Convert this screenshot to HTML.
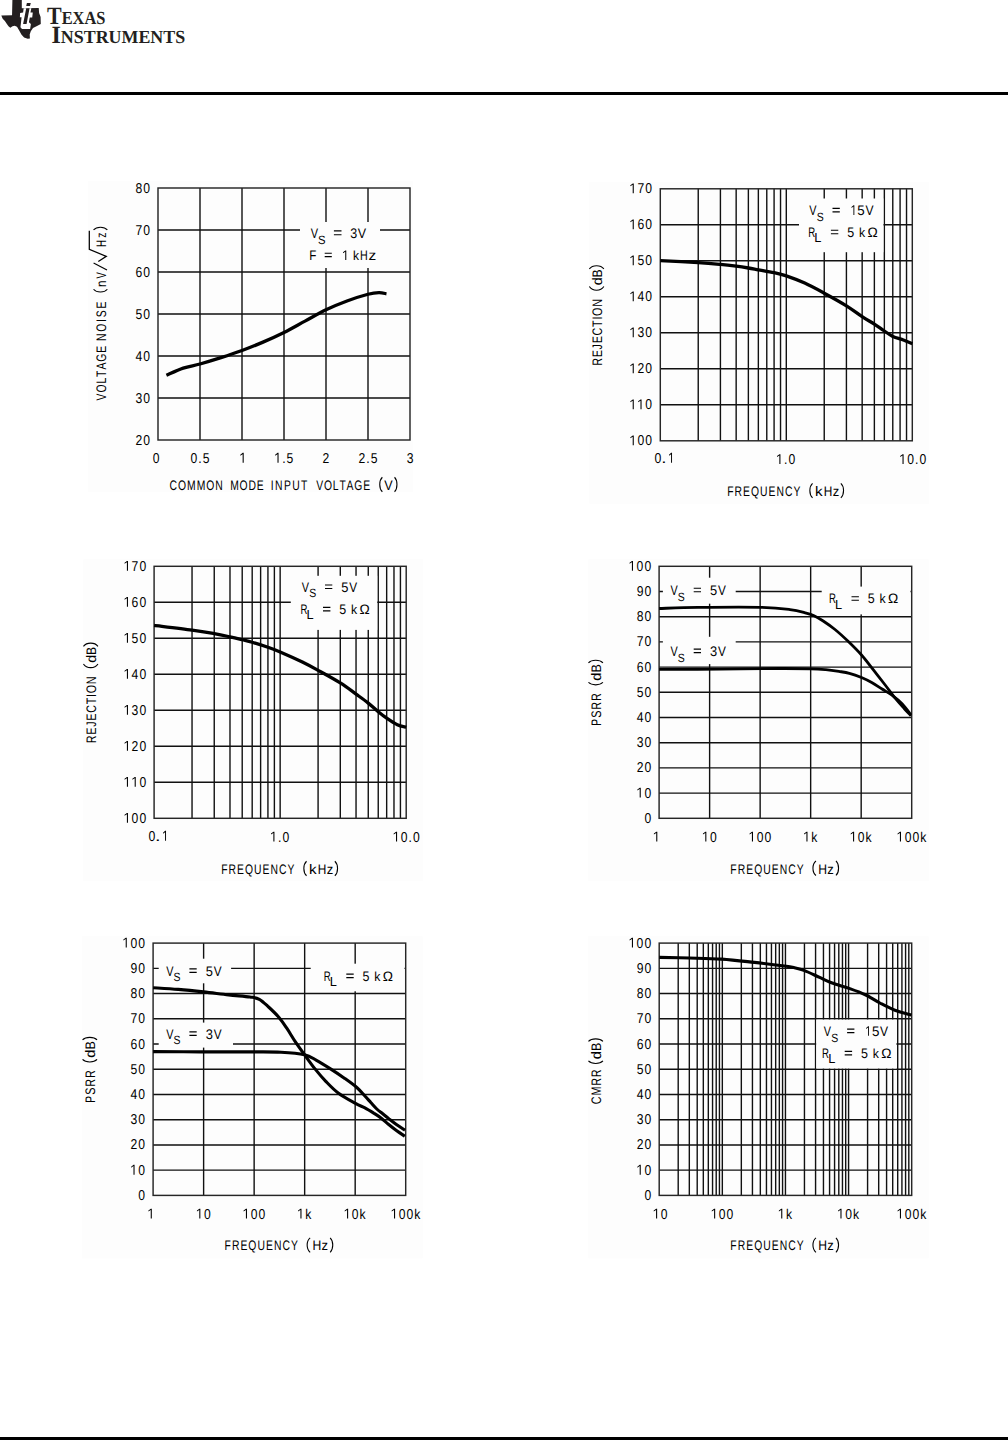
<!DOCTYPE html>
<html><head><meta charset="utf-8"><title>Typical Characteristics</title>
<style>
html,body{margin:0;padding:0;background:#fff;}
body{width:1008px;height:1440px;overflow:hidden;position:relative;font-family:"Liberation Sans",sans-serif;}
svg{position:absolute;left:0;top:0;display:block;}
</style></head><body>
<svg width="1008" height="1440" viewBox="0 0 1008 1440" font-family="Liberation Sans, sans-serif" fill="#000" text-rendering="geometricPrecision" style="font-kerning:none">
<rect x="88" y="181" width="325" height="311" fill="#fdfdfd"/>
<rect x="589.3" y="181.8" width="340" height="322" fill="#fdfdfd"/>
<rect x="83.1" y="559.3" width="340.1" height="322" fill="#fdfdfd"/>
<rect x="588.1" y="559.3" width="340.6" height="322" fill="#fdfdfd"/>
<rect x="82.1" y="936.1" width="340.6" height="322.3" fill="#fdfdfd"/>
<rect x="588.2" y="936.1" width="340.5" height="322.3" fill="#fdfdfd"/>
<rect x="0" y="92" width="1008" height="3" fill="#000"/>
<rect x="0" y="1437" width="1008" height="3" fill="#000"/>
<path fill="#231f20" d="M12.4 0H21.8V8.2L38.75 8.0L39.1 12.9L40.6 17L40.8 24.1L37 25.9L33 28.1L30.8 31.25L29.7 34.4L29.9 38.4L27.7 38.8L24.1 37.5L21.4 34.4L19.2 30.4L17 26.8L14.7 25.7L12.5 26.3L10.3 27.7L8.5 26.3L6.7 23.7L4.9 21L2.7 18.75L1.3 15.4L12.05 15.2Z"/>
<path fill="#fff" d="M23.67 8.22L31.33 8.22L30.44 12.44L32.78 12.44L32.22 17.56L29.78 17.56L28.89 22.22L30.89 24L30.11 28.89L22 28.89L20.44 27.33L20.89 23.56L21.56 17.33L19.89 17.33L20.11 12.89L23.11 12.44Z"/>
<path fill="#231f20" d="M26.22 8.22L29.56 8.22L26.56 24L23.11 24Z M26.89 2.89L30.78 2.89L30 6.11L26.22 6.11Z"/>
<g font-family="Liberation Serif, serif" font-weight="bold" fill="#231f20">
<text x="47" y="23.6" font-size="24.8" textLength="58.4" lengthAdjust="spacingAndGlyphs">T<tspan font-size="18.5">EXAS</tspan></text>
<text x="51.5" y="42.8" font-size="24.8" textLength="133.7" lengthAdjust="spacingAndGlyphs">I<tspan font-size="18.5">NSTRUMENTS</tspan></text>
</g>
<path d="M200 188V440M242 188V440M284 188V440M326 188V440M368 188V440M158 398H410M158 356H410M158 314H410M158 272H410M158 230H410" stroke="#111" stroke-width="1.4" fill="none"/>
<rect x="300" y="222" width="80" height="46" fill="#fdfdfd"/>
<rect x="158" y="188" width="252" height="252" stroke="#262626" stroke-width="1.45" fill="none"/>
<path d="M166.4 375.32C169.2 374.13 177.6 370.07 183.2 368.18C188.8 366.29 193.7 365.73 200 363.98C206.3 362.23 214 359.92 221 357.68C228 355.44 235 353.13 242 350.54C249 347.95 256 345.15 263 342.14C270 339.13 277 335.98 284 332.48C291 328.98 298 324.92 305 321.14C312 317.36 319 313.16 326 309.8C333 306.44 340 303.57 347 300.98C354 298.39 362.68 295.66 368 294.26C373.32 292.86 375.84 292.65 378.92 292.58C382 292.51 385.22 293.63 386.48 293.84" stroke="#000" stroke-width="3.3" fill="none" stroke-linecap="butt" stroke-linejoin="round"/>
<text transform="translate(135.43 192.5) scale(0.85 1)" font-size="14.3" style="letter-spacing:1.2px">80</text>
<text transform="translate(135.43 234.5) scale(0.85 1)" font-size="14.3" style="letter-spacing:1.2px">70</text>
<text transform="translate(135.43 276.5) scale(0.85 1)" font-size="14.3" style="letter-spacing:1.2px">60</text>
<text transform="translate(135.43 318.5) scale(0.85 1)" font-size="14.3" style="letter-spacing:1.2px">50</text>
<text transform="translate(135.43 360.5) scale(0.85 1)" font-size="14.3" style="letter-spacing:1.2px">40</text>
<text transform="translate(135.43 402.5) scale(0.85 1)" font-size="14.3" style="letter-spacing:1.2px">30</text>
<text transform="translate(135.43 444.5) scale(0.85 1)" font-size="14.3" style="letter-spacing:1.2px">20</text>
<text transform="translate(190.55 462.7) scale(0.85 1)" font-size="14.3" style="letter-spacing:1.2px">0.5</text>
<g transform="translate(239.58 462.7) scale(0.85 1)" font-size="14.3"><path transform="matrix(0.00698 0 0 -0.00698 0 0)" d="M515 0L515 1225L120 1000L120 1150L530 1409L696 1409L696 0Z"/></g>
<g transform="translate(274.43 462.7) scale(0.85 1)" font-size="14.3"><path transform="matrix(0.00698 0 0 -0.00698 0 0)" d="M515 0L515 1225L120 1000L120 1150L530 1409L696 1409L696 0Z"/><text x="9.15" style="letter-spacing:1.2px">.5</text></g>
<text transform="translate(322.62 462.7) scale(0.85 1)" font-size="14.3" style="letter-spacing:1.2px">2</text>
<text transform="translate(358.48 462.7) scale(0.85 1)" font-size="14.3" style="letter-spacing:1.2px">2.5</text>
<text transform="translate(406.66 462.7) scale(0.85 1)" font-size="14.3" style="letter-spacing:1.2px">3</text>
<text transform="translate(152.72 462.7) scale(0.85 1)" font-size="14.3" style="letter-spacing:1.2px">0</text>
<text transform="translate(169.47 489.8) scale(0.75 1)" font-size="13.8" style="letter-spacing:1.35px">COMMON</text>
<text transform="translate(230.15 489.8) scale(0.75 1)" font-size="13.8" style="letter-spacing:1.09px">MODE</text>
<text transform="translate(270.84 489.8) scale(0.75 1)" font-size="13.8" style="letter-spacing:1.85px">INPUT</text>
<text transform="translate(316.25 489.8) scale(0.75 1)" font-size="13.8" style="letter-spacing:1.11px">VOLTAGE</text>
<path d="M382.35 477.25C378.88 480.44 378.88 488.56 382.35 491.75" stroke="#000" stroke-width="1.1" fill="none"/>
<text transform="translate(384.24 489.8) scale(0.91 1)" font-size="13.8">V</text>
<path d="M394.55 477.25C397.75 480.44 397.75 488.56 394.55 491.75" stroke="#000" stroke-width="1.1" fill="none"/>
<g transform="translate(106.2 400.4) rotate(-90)">
<text transform="translate(-0.05 0) scale(0.75 1)" font-size="13.8" style="letter-spacing:1.27px">VOLTAGE</text>
<text transform="translate(59.35 0) scale(0.75 1)" font-size="13.8" style="letter-spacing:2.4px">NOISE</text>
<path d="M111.15 -12.65C107.55 -9.61 107.55 -1.89 111.15 1.15" stroke="#000" stroke-width="1.1" fill="none"/>
<path d="M170.45 -12.65C174.05 -9.61 174.05 -1.89 170.45 1.15" stroke="#000" stroke-width="1.1" fill="none"/>
<text transform="translate(113.33 0) scale(0.84 1)" font-size="13.8">n</text>
<text transform="translate(121.96 0) scale(0.68 1)" font-size="13.8">V</text>
<text transform="translate(153.41 0) scale(0.7 1)" font-size="13.8">H</text>
<text transform="translate(162.67 0) scale(0.76 1)" font-size="13.8">z</text>
<path d="M138.9 -7.9L144 0.1L151.1 -16.9H169.7" stroke="#000" stroke-width="1.25" fill="none"/>
<path d="M130.3 0.8L137.3 -12.6" stroke="#000" stroke-width="1.15" fill="none"/>
</g>
<text transform="translate(310.75 238) scale(0.79 1)" font-size="13.9">V</text>
<text transform="translate(317.89 243.6) scale(0.94 1)" font-size="12">S</text>
<path d="M333.9 230.8H341.5M333.9 234.7H341.5" stroke="#000" stroke-width="1.15"/>
<text transform="translate(350.33 238) scale(0.9 1)" font-size="13.9">3</text>
<text transform="translate(357.75 238) scale(0.9 1)" font-size="13.9">V</text>
<text transform="translate(309.14 260) scale(0.84 1)" font-size="13.9">F</text>
<path d="M324.7 253.2H331.8M324.7 256.6H331.8" stroke="#000" stroke-width="1.15"/>
<g transform="translate(342.31 260) scale(0.84 1)" font-size="13.9"><path transform="matrix(0.00679 0 0 -0.00679 0 0)" d="M515 0L515 1225L120 1000L120 1150L530 1409L696 1409L696 0Z"/></g>
<text transform="translate(352.89 260) scale(0.91 1)" font-size="13.19">k</text>
<text transform="translate(359.92 260) scale(0.77 1)" font-size="13.9">H</text>
<text transform="translate(368.38 260) scale(1.11 1)" font-size="13.9">z</text>
<path d="M698.23 188.8V440.8M720.42 188.8V440.8M736.16 188.8V440.8M748.37 188.8V440.8M758.35 188.8V440.8M766.78 188.8V440.8M774.09 188.8V440.8M780.53 188.8V440.8M786.3 188.8V440.8M824.23 188.8V440.8M846.42 188.8V440.8M862.16 188.8V440.8M874.37 188.8V440.8M884.35 188.8V440.8M892.78 188.8V440.8M900.09 188.8V440.8M906.53 188.8V440.8M660.3 404.8H912.3M660.3 368.8H912.3M660.3 332.8H912.3M660.3 296.8H912.3M660.3 260.8H912.3M660.3 224.8H912.3" stroke="#111" stroke-width="1.4" fill="none"/>
<rect x="799" y="198.5" width="84.4" height="53.7" fill="#fdfdfd"/>
<rect x="660.3" y="188.8" width="252" height="252" stroke="#262626" stroke-width="1.45" fill="none"/>
<path d="M660.3 260.62C666.62 260.95 688.21 261.97 698.23 262.6C708.25 263.23 714.1 263.8 720.42 264.4C726.74 265 731.5 265.6 736.16 266.2C740.82 266.8 744.67 267.4 748.37 268C752.07 268.6 754.06 269.02 758.35 269.8C762.63 270.58 769.43 271.66 774.09 272.68C778.75 273.7 781.2 274.18 786.3 275.92C791.4 277.66 798.39 280.24 804.71 283.12C811.03 286 817.28 289.42 824.23 293.2C831.18 296.98 840.1 301.9 846.42 305.8C852.74 309.7 857.5 313.54 862.16 316.6C866.82 319.66 870.67 321.76 874.37 324.16C878.07 326.56 881.28 328.96 884.35 331C887.42 333.04 889.61 334.9 892.78 336.4C895.96 337.9 900.15 338.8 903.41 340C906.66 341.2 910.82 343 912.3 343.6" stroke="#000" stroke-width="3.3" fill="none" stroke-linecap="butt" stroke-linejoin="round"/>
<g transform="translate(629.65 193.3) scale(0.85 1)" font-size="14.3"><path transform="matrix(0.00698 0 0 -0.00698 0 0)" d="M515 0L515 1225L120 1000L120 1150L530 1409L696 1409L696 0Z"/><text x="9.15" style="letter-spacing:1.2px">70</text></g>
<g transform="translate(629.65 229.3) scale(0.85 1)" font-size="14.3"><path transform="matrix(0.00698 0 0 -0.00698 0 0)" d="M515 0L515 1225L120 1000L120 1150L530 1409L696 1409L696 0Z"/><text x="9.15" style="letter-spacing:1.2px">60</text></g>
<g transform="translate(629.65 265.3) scale(0.85 1)" font-size="14.3"><path transform="matrix(0.00698 0 0 -0.00698 0 0)" d="M515 0L515 1225L120 1000L120 1150L530 1409L696 1409L696 0Z"/><text x="9.15" style="letter-spacing:1.2px">50</text></g>
<g transform="translate(629.65 301.3) scale(0.85 1)" font-size="14.3"><path transform="matrix(0.00698 0 0 -0.00698 0 0)" d="M515 0L515 1225L120 1000L120 1150L530 1409L696 1409L696 0Z"/><text x="9.15" style="letter-spacing:1.2px">40</text></g>
<g transform="translate(629.65 337.3) scale(0.85 1)" font-size="14.3"><path transform="matrix(0.00698 0 0 -0.00698 0 0)" d="M515 0L515 1225L120 1000L120 1150L530 1409L696 1409L696 0Z"/><text x="9.15" style="letter-spacing:1.2px">30</text></g>
<g transform="translate(629.65 373.3) scale(0.85 1)" font-size="14.3"><path transform="matrix(0.00698 0 0 -0.00698 0 0)" d="M515 0L515 1225L120 1000L120 1150L530 1409L696 1409L696 0Z"/><text x="9.15" style="letter-spacing:1.2px">20</text></g>
<g transform="translate(629.65 409.3) scale(0.85 1)" font-size="14.3"><path transform="matrix(0.00698 0 0 -0.00698 0 0)" d="M515 0L515 1225L120 1000L120 1150L530 1409L696 1409L696 0Z"/><path transform="matrix(0.00698 0 0 -0.00698 9.15 0)" d="M515 0L515 1225L120 1000L120 1150L530 1409L696 1409L696 0Z"/><text x="18.31" style="letter-spacing:1.2px">0</text></g>
<g transform="translate(629.65 445.3) scale(0.85 1)" font-size="14.3"><path transform="matrix(0.00698 0 0 -0.00698 0 0)" d="M515 0L515 1225L120 1000L120 1150L530 1409L696 1409L696 0Z"/><text x="9.15" style="letter-spacing:1.2px">00</text></g>
<text transform="translate(654.62 462.7) scale(0.86 1)" font-size="14.3">0</text>
<text transform="translate(661.27 462.7) scale(1.32 1)" font-size="14.3">.</text>
<g transform="translate(668.38 462.7) scale(0.75 1)" font-size="14.3"><path transform="matrix(0.00698 0 0 -0.00698 0 0)" d="M515 0L515 1225L120 1000L120 1150L530 1409L696 1409L696 0Z"/></g>
<g transform="translate(776.31 464) scale(0.85 1)" font-size="14.3"><path transform="matrix(0.00698 0 0 -0.00698 0 0)" d="M515 0L515 1225L120 1000L120 1150L530 1409L696 1409L696 0Z"/><text x="9.15" style="letter-spacing:1.2px">.0</text></g>
<g transform="translate(899.46 464) scale(0.85 1)" font-size="14.3"><path transform="matrix(0.00698 0 0 -0.00698 0 0)" d="M515 0L515 1225L120 1000L120 1150L530 1409L696 1409L696 0Z"/><text x="9.15" style="letter-spacing:1.2px">0.0</text></g>
<text transform="translate(727.25 495.9) scale(0.75 1)" font-size="13.8" style="letter-spacing:1.35px">FREQUENCY</text>
<path d="M812.55 483.35C808.95 486.54 808.95 494.66 812.55 497.85" stroke="#000" stroke-width="1.1" fill="none"/>
<text transform="translate(815.08 495.9) scale(1.1 1)" font-size="13.8">k</text>
<text transform="translate(823.83 495.9) scale(0.86 1)" font-size="13.8">H</text>
<text transform="translate(832.78 495.9) scale(0.94 1)" font-size="13.8">z</text>
<path d="M840.85 483.35C844.45 486.54 844.45 494.66 840.85 497.85" stroke="#000" stroke-width="1.1" fill="none"/>
<g transform="translate(601.9 0) rotate(-90)">
<text transform="translate(-365.78 0) scale(0.78 1)" font-size="13.8" style="letter-spacing:0.92px">REJECTION</text>
<path d="M-286.55 -12.55C-291.48 -9.36 -291.48 -1.24 -286.55 1.95" stroke="#000" stroke-width="1.1" fill="none"/>
<text transform="translate(-285.31 0) scale(1.05 1)" font-size="13.8">d</text>
<text transform="translate(-277.5 0) scale(0.88 1)" font-size="13.8">B</text>
<path d="M-268.95 -12.55C-264.68 -9.36 -264.68 -1.24 -268.95 1.95" stroke="#000" stroke-width="1.1" fill="none"/>
</g>
<text transform="translate(809.25 214.9) scale(0.78 1)" font-size="13.9">V</text>
<text transform="translate(816.63 220.7) scale(0.87 1)" font-size="12">S</text>
<path d="M832.5 208.3H839.8M832.5 211.8H839.8" stroke="#000" stroke-width="1.15"/>
<g transform="translate(850.92 214.9) scale(0.72 1)" font-size="13.9"><path transform="matrix(0.00679 0 0 -0.00679 0 0)" d="M515 0L515 1225L120 1000L120 1150L530 1409L696 1409L696 0Z"/></g>
<text transform="translate(857.37 214.9) scale(0.96 1)" font-size="13.9">5</text>
<text transform="translate(865.45 214.9) scale(0.87 1)" font-size="13.9">V</text>
<text transform="translate(808.31 236.8) scale(0.69 1)" font-size="13.9">R</text>
<text transform="translate(814.36 242.3) scale(0.98 1)" font-size="13">L</text>
<path d="M830.9 230.2H838.3M830.9 233.7H838.3" stroke="#000" stroke-width="1.15"/>
<text transform="translate(847.2 236.8) scale(0.9 1)" font-size="13.9">5</text>
<text transform="translate(858.88 236.8) scale(0.93 1)" font-size="13.19">k</text>
<text transform="translate(867.42 236.8) scale(1 1)" font-size="13.7">Ω</text>
<path d="M192.04 566.3V818.3M214.24 566.3V818.3M229.99 566.3V818.3M242.21 566.3V818.3M252.19 566.3V818.3M260.62 566.3V818.3M267.93 566.3V818.3M274.38 566.3V818.3M280.15 566.3V818.3M318.09 566.3V818.3M340.29 566.3V818.3M356.04 566.3V818.3M368.26 566.3V818.3M378.24 566.3V818.3M386.67 566.3V818.3M393.98 566.3V818.3M400.43 566.3V818.3M154.1 782.3H406.2M154.1 746.3H406.2M154.1 710.3H406.2M154.1 674.3H406.2M154.1 638.3H406.2M154.1 602.3H406.2" stroke="#111" stroke-width="1.4" fill="none"/>
<rect x="290.8" y="575.8" width="86.4" height="54.1" fill="#fdfdfd"/>
<rect x="154.1" y="566.3" width="252.1" height="252" stroke="#262626" stroke-width="1.45" fill="none"/>
<path d="M154.1 625.34C160.42 626.12 182.02 628.64 192.04 630.02C202.07 631.4 207.92 632.48 214.24 633.62C220.57 634.76 225.33 635.84 229.99 636.86C234.65 637.88 238.51 638.84 242.21 639.74C245.9 640.64 247.9 641 252.19 642.26C256.47 643.52 263.27 645.68 267.93 647.3C272.6 648.92 274.41 649.52 280.15 651.98C285.89 654.44 296.02 659 302.35 662.06C308.67 665.12 311.77 666.86 318.09 670.34C324.42 673.82 333.97 678.98 340.29 682.94C346.62 686.9 351.38 690.74 356.04 694.1C360.7 697.46 364.56 700.16 368.26 703.1C371.95 706.04 375.17 709.22 378.24 711.74C381.31 714.26 383.5 716.06 386.67 718.22C389.85 720.38 394.05 723.2 397.3 724.7C400.56 726.2 404.72 726.8 406.2 727.22" stroke="#000" stroke-width="3.3" fill="none" stroke-linecap="butt" stroke-linejoin="round"/>
<g transform="translate(123.85 570.8) scale(0.85 1)" font-size="14.3"><path transform="matrix(0.00698 0 0 -0.00698 0 0)" d="M515 0L515 1225L120 1000L120 1150L530 1409L696 1409L696 0Z"/><text x="9.15" style="letter-spacing:1.2px">70</text></g>
<g transform="translate(123.85 606.8) scale(0.85 1)" font-size="14.3"><path transform="matrix(0.00698 0 0 -0.00698 0 0)" d="M515 0L515 1225L120 1000L120 1150L530 1409L696 1409L696 0Z"/><text x="9.15" style="letter-spacing:1.2px">60</text></g>
<g transform="translate(123.85 642.8) scale(0.85 1)" font-size="14.3"><path transform="matrix(0.00698 0 0 -0.00698 0 0)" d="M515 0L515 1225L120 1000L120 1150L530 1409L696 1409L696 0Z"/><text x="9.15" style="letter-spacing:1.2px">50</text></g>
<g transform="translate(123.85 678.8) scale(0.85 1)" font-size="14.3"><path transform="matrix(0.00698 0 0 -0.00698 0 0)" d="M515 0L515 1225L120 1000L120 1150L530 1409L696 1409L696 0Z"/><text x="9.15" style="letter-spacing:1.2px">40</text></g>
<g transform="translate(123.85 714.8) scale(0.85 1)" font-size="14.3"><path transform="matrix(0.00698 0 0 -0.00698 0 0)" d="M515 0L515 1225L120 1000L120 1150L530 1409L696 1409L696 0Z"/><text x="9.15" style="letter-spacing:1.2px">30</text></g>
<g transform="translate(123.85 750.8) scale(0.85 1)" font-size="14.3"><path transform="matrix(0.00698 0 0 -0.00698 0 0)" d="M515 0L515 1225L120 1000L120 1150L530 1409L696 1409L696 0Z"/><text x="9.15" style="letter-spacing:1.2px">20</text></g>
<g transform="translate(123.85 786.8) scale(0.85 1)" font-size="14.3"><path transform="matrix(0.00698 0 0 -0.00698 0 0)" d="M515 0L515 1225L120 1000L120 1150L530 1409L696 1409L696 0Z"/><path transform="matrix(0.00698 0 0 -0.00698 9.15 0)" d="M515 0L515 1225L120 1000L120 1150L530 1409L696 1409L696 0Z"/><text x="18.31" style="letter-spacing:1.2px">0</text></g>
<g transform="translate(123.85 822.8) scale(0.85 1)" font-size="14.3"><path transform="matrix(0.00698 0 0 -0.00698 0 0)" d="M515 0L515 1225L120 1000L120 1150L530 1409L696 1409L696 0Z"/><text x="9.15" style="letter-spacing:1.2px">00</text></g>
<text transform="translate(148.62 840.7) scale(0.86 1)" font-size="14.3">0</text>
<text transform="translate(155.08 840.7) scale(1.4 1)" font-size="14.3">.</text>
<g transform="translate(162.38 840.7) scale(0.75 1)" font-size="14.3"><path transform="matrix(0.00698 0 0 -0.00698 0 0)" d="M515 0L515 1225L120 1000L120 1150L530 1409L696 1409L696 0Z"/></g>
<g transform="translate(270.31 841.6) scale(0.85 1)" font-size="14.3"><path transform="matrix(0.00698 0 0 -0.00698 0 0)" d="M515 0L515 1225L120 1000L120 1150L530 1409L696 1409L696 0Z"/><text x="9.15" style="letter-spacing:1.2px">.0</text></g>
<g transform="translate(392.96 841.6) scale(0.85 1)" font-size="14.3"><path transform="matrix(0.00698 0 0 -0.00698 0 0)" d="M515 0L515 1225L120 1000L120 1150L530 1409L696 1409L696 0Z"/><text x="9.15" style="letter-spacing:1.2px">0.0</text></g>
<text transform="translate(221.25 873.8) scale(0.75 1)" font-size="13.8" style="letter-spacing:1.35px">FREQUENCY</text>
<path d="M306.55 861.25C302.95 864.44 302.95 872.56 306.55 875.75" stroke="#000" stroke-width="1.1" fill="none"/>
<text transform="translate(309.08 873.8) scale(1.1 1)" font-size="13.8">k</text>
<text transform="translate(317.83 873.8) scale(0.86 1)" font-size="13.8">H</text>
<text transform="translate(326.78 873.8) scale(0.94 1)" font-size="13.8">z</text>
<path d="M334.85 861.25C338.45 864.44 338.45 872.56 334.85 875.75" stroke="#000" stroke-width="1.1" fill="none"/>
<g transform="translate(96 0) rotate(-90)">
<text transform="translate(-743.18 0) scale(0.78 1)" font-size="13.8" style="letter-spacing:0.92px">REJECTION</text>
<path d="M-663.95 -12.55C-668.88 -9.36 -668.88 -1.24 -663.95 1.95" stroke="#000" stroke-width="1.1" fill="none"/>
<text transform="translate(-662.71 0) scale(1.05 1)" font-size="13.8">d</text>
<text transform="translate(-654.9 0) scale(0.88 1)" font-size="13.8">B</text>
<path d="M-646.35 -12.55C-642.08 -9.36 -642.08 -1.24 -646.35 1.95" stroke="#000" stroke-width="1.1" fill="none"/>
</g>
<text transform="translate(301.75 591.6) scale(0.78 1)" font-size="13.9">V</text>
<text transform="translate(309.13 597.4) scale(0.87 1)" font-size="12">S</text>
<path d="M325 585H332.3M325 588.5H332.3" stroke="#000" stroke-width="1.15"/>
<text transform="translate(341.28 591.6) scale(0.93 1)" font-size="13.9">5</text>
<text transform="translate(349.35 591.6) scale(0.85 1)" font-size="13.9">V</text>
<text transform="translate(300.41 613.9) scale(0.69 1)" font-size="13.9">R</text>
<text transform="translate(306.46 619.4) scale(0.98 1)" font-size="13">L</text>
<path d="M323 607.3H330.4M323 610.8H330.4" stroke="#000" stroke-width="1.15"/>
<text transform="translate(339.3 613.9) scale(0.9 1)" font-size="13.9">5</text>
<text transform="translate(350.98 613.9) scale(0.93 1)" font-size="13.19">k</text>
<text transform="translate(359.52 613.9) scale(1 1)" font-size="13.7">Ω</text>
<path d="M709.62 566.3V818.3M760.14 566.3V818.3M810.66 566.3V818.3M861.18 566.3V818.3M659.1 793.1H911.7M659.1 767.9H911.7M659.1 742.7H911.7M659.1 717.5H911.7M659.1 692.3H911.7M659.1 667.1H911.7M659.1 641.9H911.7M659.1 616.7H911.7M659.1 591.5H911.7" stroke="#111" stroke-width="1.4" fill="none"/>
<rect x="662.9" y="577.7" width="72.8" height="26" fill="#fdfdfd"/>
<rect x="662.9" y="636.8" width="72.8" height="27.3" fill="#fdfdfd"/>
<rect x="821.7" y="586.6" width="88.8" height="27.8" fill="#fdfdfd"/>
<rect x="659.1" y="566.3" width="252.6" height="252" stroke="#262626" stroke-width="1.45" fill="none"/>
<path d="M659.1 608.5C665.58 608.32 681.18 607.6 698 607.4C714.82 607.2 744.67 606.93 760 607.3C775.33 607.67 782.3 608.63 790 609.6C797.7 610.57 802.2 612.08 806.2 613.1C810.2 614.12 811.17 614.38 814 615.7C816.83 617.02 819.7 618.7 823.2 621C826.7 623.3 830.85 626.12 835 629.5C839.15 632.88 843.68 637.05 848.1 641.3C852.52 645.55 857.35 650.32 861.5 655C865.65 659.68 869.12 664.48 873 669.4C876.88 674.32 881.1 679.7 884.8 684.5C888.5 689.3 891.93 694.17 895.2 698.2C898.47 702.23 901.77 705.77 904.4 708.7C907.03 711.63 909.9 714.62 911 715.8" stroke="#000" stroke-width="2.8" fill="none" stroke-linecap="butt" stroke-linejoin="round"/>
<path d="M659.1 669.4C669.25 669.35 699.85 669.25 720 669.1C740.15 668.95 764.87 668.55 780 668.5C795.13 668.45 803.17 668.6 810.8 668.8C818.43 669 821.12 669.27 825.8 669.7C830.48 670.13 834.97 670.8 838.9 671.4C842.83 672 845.63 672.28 849.4 673.3C853.17 674.32 857.78 675.97 861.5 677.5C865.22 679.03 868.27 680.58 871.7 682.5C875.13 684.42 878.62 686.82 882.1 689C885.58 691.18 889.32 693.18 892.6 695.6C895.88 698.02 898.73 700.3 901.8 703.5C904.87 706.7 909.47 712.92 911 714.8" stroke="#000" stroke-width="2.8" fill="none" stroke-linecap="butt" stroke-linejoin="round"/>
<g transform="translate(628.85 570.8) scale(0.85 1)" font-size="14.3"><path transform="matrix(0.00698 0 0 -0.00698 0 0)" d="M515 0L515 1225L120 1000L120 1150L530 1409L696 1409L696 0Z"/><text x="9.15" style="letter-spacing:1.2px">00</text></g>
<text transform="translate(636.63 596) scale(0.85 1)" font-size="14.3" style="letter-spacing:1.2px">90</text>
<text transform="translate(636.63 621.2) scale(0.85 1)" font-size="14.3" style="letter-spacing:1.2px">80</text>
<text transform="translate(636.63 646.4) scale(0.85 1)" font-size="14.3" style="letter-spacing:1.2px">70</text>
<text transform="translate(636.63 671.6) scale(0.85 1)" font-size="14.3" style="letter-spacing:1.2px">60</text>
<text transform="translate(636.63 696.8) scale(0.85 1)" font-size="14.3" style="letter-spacing:1.2px">50</text>
<text transform="translate(636.63 722) scale(0.85 1)" font-size="14.3" style="letter-spacing:1.2px">40</text>
<text transform="translate(636.63 747.2) scale(0.85 1)" font-size="14.3" style="letter-spacing:1.2px">30</text>
<text transform="translate(636.63 772.4) scale(0.85 1)" font-size="14.3" style="letter-spacing:1.2px">20</text>
<g transform="translate(636.63 797.6) scale(0.85 1)" font-size="14.3"><path transform="matrix(0.00698 0 0 -0.00698 0 0)" d="M515 0L515 1225L120 1000L120 1150L530 1409L696 1409L696 0Z"/><text x="9.15" style="letter-spacing:1.2px">0</text></g>
<text transform="translate(644.41 822.8) scale(0.85 1)" font-size="14.3" style="letter-spacing:1.2px">0</text>
<g transform="translate(653.18 841.6) scale(0.85 1)" font-size="14.3"><path transform="matrix(0.00698 0 0 -0.00698 0 0)" d="M515 0L515 1225L120 1000L120 1150L530 1409L696 1409L696 0Z"/></g>
<g transform="translate(702.23 841.6) scale(0.85 1)" font-size="14.3"><path transform="matrix(0.00698 0 0 -0.00698 0 0)" d="M515 0L515 1225L120 1000L120 1150L530 1409L696 1409L696 0Z"/><text x="9.15" style="letter-spacing:1.2px">0</text></g>
<g transform="translate(748.86 841.6) scale(0.85 1)" font-size="14.3"><path transform="matrix(0.00698 0 0 -0.00698 0 0)" d="M515 0L515 1225L120 1000L120 1150L530 1409L696 1409L696 0Z"/><text x="9.15" style="letter-spacing:1.2px">00</text></g>
<g transform="translate(803.37 841.6) scale(0.85 1)" font-size="14.3"><path transform="matrix(0.00698 0 0 -0.00698 0 0)" d="M515 0L515 1225L120 1000L120 1150L530 1409L696 1409L696 0Z"/><text x="9.15" style="letter-spacing:1.2px">k</text></g>
<g transform="translate(850 841.6) scale(0.85 1)" font-size="14.3"><path transform="matrix(0.00698 0 0 -0.00698 0 0)" d="M515 0L515 1225L120 1000L120 1150L530 1409L696 1409L696 0Z"/><text x="9.15" style="letter-spacing:1.2px">0k</text></g>
<g transform="translate(896.86 841.6) scale(0.85 1)" font-size="14.3"><path transform="matrix(0.00698 0 0 -0.00698 0 0)" d="M515 0L515 1225L120 1000L120 1150L530 1409L696 1409L696 0Z"/><text x="9.15" style="letter-spacing:1.2px">00k</text></g>
<text transform="translate(730.35 873.5) scale(0.75 1)" font-size="13.8" style="letter-spacing:1.38px">FREQUENCY</text>
<path d="M815.95 860.95C811.95 864.14 811.95 872.26 815.95 875.45" stroke="#000" stroke-width="1.1" fill="none"/>
<text transform="translate(818.2 873.5) scale(0.88 1)" font-size="13.8">H</text>
<text transform="translate(827.28 873.5) scale(0.94 1)" font-size="13.8">z</text>
<path d="M835.95 860.95C839.42 864.14 839.42 872.26 835.95 875.45" stroke="#000" stroke-width="1.1" fill="none"/>
<g transform="translate(601 0) rotate(-90)">
<text transform="translate(-725.88 0) scale(0.78 1)" font-size="13.8" style="letter-spacing:1.19px">PSRR</text>
<path d="M-682.25 -12.55C-685.72 -9.36 -685.72 -1.24 -682.25 1.95" stroke="#000" stroke-width="1.1" fill="none"/>
<text transform="translate(-680.72 0) scale(1.06 1)" font-size="13.8">d</text>
<text transform="translate(-672.52 0) scale(0.9 1)" font-size="13.8">B</text>
<path d="M-662.85 -12.55C-659.38 -9.36 -659.38 -1.24 -662.85 1.95" stroke="#000" stroke-width="1.1" fill="none"/>
</g>
<text transform="translate(670.45 594.8) scale(0.78 1)" font-size="13.9">V</text>
<text transform="translate(677.83 600.6) scale(0.87 1)" font-size="12">S</text>
<path d="M693.7 588.2H701M693.7 591.7H701" stroke="#000" stroke-width="1.15"/>
<text transform="translate(709.98 594.8) scale(0.93 1)" font-size="13.9">5</text>
<text transform="translate(718.05 594.8) scale(0.85 1)" font-size="13.9">V</text>
<text transform="translate(670.45 655.7) scale(0.78 1)" font-size="13.9">V</text>
<text transform="translate(677.83 661.5) scale(0.87 1)" font-size="12">S</text>
<path d="M693.7 649.1H701M693.7 652.6H701" stroke="#000" stroke-width="1.15"/>
<text transform="translate(710.01 655.7) scale(0.93 1)" font-size="13.9">3</text>
<text transform="translate(718.05 655.7) scale(0.85 1)" font-size="13.9">V</text>
<text transform="translate(828.91 603.3) scale(0.69 1)" font-size="13.9">R</text>
<text transform="translate(834.96 608.8) scale(0.98 1)" font-size="13">L</text>
<path d="M851.5 596.7H858.9M851.5 600.2H858.9" stroke="#000" stroke-width="1.15"/>
<text transform="translate(867.8 603.3) scale(0.9 1)" font-size="13.9">5</text>
<text transform="translate(879.48 603.3) scale(0.93 1)" font-size="13.19">k</text>
<text transform="translate(888.02 603.3) scale(1 1)" font-size="13.7">Ω</text>
<path d="M203.62 943.1V1195.4M254.14 943.1V1195.4M304.66 943.1V1195.4M355.18 943.1V1195.4M153.1 1170.17H405.7M153.1 1144.94H405.7M153.1 1119.71H405.7M153.1 1094.48H405.7M153.1 1069.25H405.7M153.1 1044.02H405.7M153.1 1018.79H405.7M153.1 993.56H405.7M153.1 968.33H405.7" stroke="#111" stroke-width="1.4" fill="none"/>
<rect x="158.7" y="958.7" width="72.4" height="24.6" fill="#fdfdfd"/>
<rect x="158.7" y="1022.6" width="74.3" height="25" fill="#fdfdfd"/>
<rect x="310.7" y="963.7" width="93.8" height="27.6" fill="#fdfdfd"/>
<rect x="153.1" y="943.1" width="252.6" height="252.3" stroke="#262626" stroke-width="1.45" fill="none"/>
<path d="M153.1 987.7C157.28 987.98 169.78 988.7 178.2 989.4C186.62 990.1 195.2 990.98 203.6 991.9C212 992.82 220.87 994.05 228.6 994.9C236.33 995.75 244.88 996.27 250 997C255.12 997.73 256.2 997.63 259.3 999.3C262.4 1000.97 265.25 1003.9 268.6 1007C271.95 1010.1 276.32 1014.28 279.4 1017.9C282.48 1021.52 284.52 1024.83 287.1 1028.7C289.68 1032.57 292 1036.77 294.9 1041.1C297.8 1045.43 301.15 1050.07 304.5 1054.7C307.85 1059.33 311.45 1064.47 315 1068.9C318.55 1073.33 321.93 1077.3 325.8 1081.3C329.67 1085.3 333.25 1089.22 338.2 1092.9C343.15 1096.58 351.05 1100.9 355.5 1103.4C359.95 1105.9 361.85 1106.27 364.9 1107.9C367.95 1109.53 371.12 1111.52 373.8 1113.2C376.48 1114.88 378.52 1116.12 381 1118C383.48 1119.88 386.13 1122.42 388.7 1124.5C391.27 1126.58 393.72 1128.55 396.4 1130.5C399.08 1132.45 403.4 1135.25 404.8 1136.2" stroke="#000" stroke-width="3.1" fill="none" stroke-linecap="butt" stroke-linejoin="round"/>
<path d="M153.1 1051.6C160.92 1051.65 183.85 1051.85 200 1051.9C216.15 1051.95 236.5 1051.85 250 1051.9C263.5 1051.95 271.92 1051.73 281 1052.2C290.08 1052.67 298.58 1053.33 304.5 1054.7C310.42 1056.07 312.17 1058.03 316.5 1060.4C320.83 1062.77 325.85 1065.93 330.5 1068.9C335.15 1071.87 340.02 1075.1 344.4 1078.2C348.78 1081.3 353.38 1084.53 356.8 1087.5C360.22 1090.47 362.57 1093.5 364.9 1096C367.23 1098.5 368.82 1100.33 370.8 1102.5C372.78 1104.67 374.82 1107.12 376.8 1109C378.78 1110.88 380.72 1112.2 382.7 1113.8C384.68 1115.4 386.42 1116.82 388.7 1118.6C390.98 1120.38 393.68 1122.55 396.4 1124.5C399.12 1126.45 403.57 1129.33 405 1130.3" stroke="#000" stroke-width="3.1" fill="none" stroke-linecap="butt" stroke-linejoin="round"/>
<g transform="translate(122.65 947.6) scale(0.85 1)" font-size="14.3"><path transform="matrix(0.00698 0 0 -0.00698 0 0)" d="M515 0L515 1225L120 1000L120 1150L530 1409L696 1409L696 0Z"/><text x="9.15" style="letter-spacing:1.2px">00</text></g>
<text transform="translate(130.43 972.83) scale(0.85 1)" font-size="14.3" style="letter-spacing:1.2px">90</text>
<text transform="translate(130.43 998.06) scale(0.85 1)" font-size="14.3" style="letter-spacing:1.2px">80</text>
<text transform="translate(130.43 1023.29) scale(0.85 1)" font-size="14.3" style="letter-spacing:1.2px">70</text>
<text transform="translate(130.43 1048.52) scale(0.85 1)" font-size="14.3" style="letter-spacing:1.2px">60</text>
<text transform="translate(130.43 1073.75) scale(0.85 1)" font-size="14.3" style="letter-spacing:1.2px">50</text>
<text transform="translate(130.43 1098.98) scale(0.85 1)" font-size="14.3" style="letter-spacing:1.2px">40</text>
<text transform="translate(130.43 1124.21) scale(0.85 1)" font-size="14.3" style="letter-spacing:1.2px">30</text>
<text transform="translate(130.43 1149.44) scale(0.85 1)" font-size="14.3" style="letter-spacing:1.2px">20</text>
<g transform="translate(130.43 1174.67) scale(0.85 1)" font-size="14.3"><path transform="matrix(0.00698 0 0 -0.00698 0 0)" d="M515 0L515 1225L120 1000L120 1150L530 1409L696 1409L696 0Z"/><text x="9.15" style="letter-spacing:1.2px">0</text></g>
<text transform="translate(138.21 1199.9) scale(0.85 1)" font-size="14.3" style="letter-spacing:1.2px">0</text>
<g transform="translate(147.68 1218.6) scale(0.85 1)" font-size="14.3"><path transform="matrix(0.00698 0 0 -0.00698 0 0)" d="M515 0L515 1225L120 1000L120 1150L530 1409L696 1409L696 0Z"/></g>
<g transform="translate(196.23 1218.6) scale(0.85 1)" font-size="14.3"><path transform="matrix(0.00698 0 0 -0.00698 0 0)" d="M515 0L515 1225L120 1000L120 1150L530 1409L696 1409L696 0Z"/><text x="9.15" style="letter-spacing:1.2px">0</text></g>
<g transform="translate(242.86 1218.6) scale(0.85 1)" font-size="14.3"><path transform="matrix(0.00698 0 0 -0.00698 0 0)" d="M515 0L515 1225L120 1000L120 1150L530 1409L696 1409L696 0Z"/><text x="9.15" style="letter-spacing:1.2px">00</text></g>
<g transform="translate(297.37 1218.6) scale(0.85 1)" font-size="14.3"><path transform="matrix(0.00698 0 0 -0.00698 0 0)" d="M515 0L515 1225L120 1000L120 1150L530 1409L696 1409L696 0Z"/><text x="9.15" style="letter-spacing:1.2px">k</text></g>
<g transform="translate(344 1218.6) scale(0.85 1)" font-size="14.3"><path transform="matrix(0.00698 0 0 -0.00698 0 0)" d="M515 0L515 1225L120 1000L120 1150L530 1409L696 1409L696 0Z"/><text x="9.15" style="letter-spacing:1.2px">0k</text></g>
<g transform="translate(390.96 1218.6) scale(0.85 1)" font-size="14.3"><path transform="matrix(0.00698 0 0 -0.00698 0 0)" d="M515 0L515 1225L120 1000L120 1150L530 1409L696 1409L696 0Z"/><text x="9.15" style="letter-spacing:1.2px">00k</text></g>
<text transform="translate(224.55 1250.4) scale(0.75 1)" font-size="13.8" style="letter-spacing:1.38px">FREQUENCY</text>
<path d="M310.15 1237.85C306.15 1241.04 306.15 1249.16 310.15 1252.35" stroke="#000" stroke-width="1.1" fill="none"/>
<text transform="translate(312.4 1250.4) scale(0.88 1)" font-size="13.8">H</text>
<text transform="translate(321.48 1250.4) scale(0.94 1)" font-size="13.8">z</text>
<path d="M330.15 1237.85C333.62 1241.04 333.62 1249.16 330.15 1252.35" stroke="#000" stroke-width="1.1" fill="none"/>
<g transform="translate(95.1 0) rotate(-90)">
<text transform="translate(-1102.98 0) scale(0.78 1)" font-size="13.8" style="letter-spacing:1.19px">PSRR</text>
<path d="M-1059.35 -12.55C-1062.82 -9.36 -1062.82 -1.24 -1059.35 1.95" stroke="#000" stroke-width="1.1" fill="none"/>
<text transform="translate(-1057.82 0) scale(1.06 1)" font-size="13.8">d</text>
<text transform="translate(-1049.62 0) scale(0.9 1)" font-size="13.8">B</text>
<path d="M-1039.95 -12.55C-1036.48 -9.36 -1036.48 -1.24 -1039.95 1.95" stroke="#000" stroke-width="1.1" fill="none"/>
</g>
<text transform="translate(166.15 975.5) scale(0.78 1)" font-size="13.9">V</text>
<text transform="translate(173.53 981.3) scale(0.87 1)" font-size="12">S</text>
<path d="M189.4 968.9H196.7M189.4 972.4H196.7" stroke="#000" stroke-width="1.15"/>
<text transform="translate(205.68 975.5) scale(0.93 1)" font-size="13.9">5</text>
<text transform="translate(213.75 975.5) scale(0.85 1)" font-size="13.9">V</text>
<text transform="translate(166.15 1038.5) scale(0.78 1)" font-size="13.9">V</text>
<text transform="translate(173.53 1044.3) scale(0.87 1)" font-size="12">S</text>
<path d="M189.4 1031.9H196.7M189.4 1035.4H196.7" stroke="#000" stroke-width="1.15"/>
<text transform="translate(205.71 1038.5) scale(0.93 1)" font-size="13.9">3</text>
<text transform="translate(213.75 1038.5) scale(0.85 1)" font-size="13.9">V</text>
<text transform="translate(323.71 980.7) scale(0.69 1)" font-size="13.9">R</text>
<text transform="translate(329.76 986.2) scale(0.98 1)" font-size="13">L</text>
<path d="M346.3 974.1H353.7M346.3 977.6H353.7" stroke="#000" stroke-width="1.15"/>
<text transform="translate(362.6 980.7) scale(0.9 1)" font-size="13.9">5</text>
<text transform="translate(374.28 980.7) scale(0.93 1)" font-size="13.19">k</text>
<text transform="translate(382.82 980.7) scale(1 1)" font-size="13.7">Ω</text>
<path d="M678.2 943.1V1195.4M689.32 943.1V1195.4M697.21 943.1V1195.4M703.32 943.1V1195.4M708.32 943.1V1195.4M712.55 943.1V1195.4M716.21 943.1V1195.4M719.44 943.1V1195.4M722.33 943.1V1195.4M741.33 943.1V1195.4M752.44 943.1V1195.4M760.33 943.1V1195.4M766.45 943.1V1195.4M771.45 943.1V1195.4M775.67 943.1V1195.4M779.33 943.1V1195.4M782.56 943.1V1195.4M785.45 943.1V1195.4M804.45 943.1V1195.4M815.57 943.1V1195.4M823.46 943.1V1195.4M829.57 943.1V1195.4M834.57 943.1V1195.4M838.8 943.1V1195.4M842.46 943.1V1195.4M845.69 943.1V1195.4M848.58 943.1V1195.4M867.58 943.1V1195.4M878.69 943.1V1195.4M886.58 943.1V1195.4M892.7 943.1V1195.4M897.7 943.1V1195.4M901.92 943.1V1195.4M905.58 943.1V1195.4M908.81 943.1V1195.4M659.2 1170.17H911.7M659.2 1144.94H911.7M659.2 1119.71H911.7M659.2 1094.48H911.7M659.2 1069.25H911.7M659.2 1044.02H911.7M659.2 1018.79H911.7M659.2 993.56H911.7M659.2 968.33H911.7" stroke="#111" stroke-width="1.4" fill="none"/>
<rect x="816.2" y="1019.6" width="80.2" height="48.9" fill="#fdfdfd"/>
<rect x="659.2" y="943.1" width="252.5" height="252.3" stroke="#262626" stroke-width="1.45" fill="none"/>
<path d="M659.2 957.4C664.18 957.5 678.67 957.72 689.1 958C699.53 958.28 710.92 958.37 721.8 959.1C732.68 959.83 743.95 961.25 754.4 962.4C764.85 963.55 777.82 965.12 784.5 966C791.18 966.88 791.15 966.93 794.5 967.7C797.85 968.47 800.42 968.98 804.6 970.6C808.78 972.22 815 975.33 819.6 977.4C824.2 979.47 827.17 981.13 832.2 983C837.23 984.87 844.37 986.68 849.8 988.6C855.23 990.52 859.78 992.1 864.8 994.5C869.82 996.9 874.88 1000.38 879.9 1003C884.92 1005.62 889.63 1008.2 894.9 1010.2C900.17 1012.2 908.73 1014.2 911.5 1015" stroke="#000" stroke-width="3.1" fill="none" stroke-linecap="butt" stroke-linejoin="round"/>
<g transform="translate(628.85 947.6) scale(0.85 1)" font-size="14.3"><path transform="matrix(0.00698 0 0 -0.00698 0 0)" d="M515 0L515 1225L120 1000L120 1150L530 1409L696 1409L696 0Z"/><text x="9.15" style="letter-spacing:1.2px">00</text></g>
<text transform="translate(636.63 972.83) scale(0.85 1)" font-size="14.3" style="letter-spacing:1.2px">90</text>
<text transform="translate(636.63 998.06) scale(0.85 1)" font-size="14.3" style="letter-spacing:1.2px">80</text>
<text transform="translate(636.63 1023.29) scale(0.85 1)" font-size="14.3" style="letter-spacing:1.2px">70</text>
<text transform="translate(636.63 1048.52) scale(0.85 1)" font-size="14.3" style="letter-spacing:1.2px">60</text>
<text transform="translate(636.63 1073.75) scale(0.85 1)" font-size="14.3" style="letter-spacing:1.2px">50</text>
<text transform="translate(636.63 1098.98) scale(0.85 1)" font-size="14.3" style="letter-spacing:1.2px">40</text>
<text transform="translate(636.63 1124.21) scale(0.85 1)" font-size="14.3" style="letter-spacing:1.2px">30</text>
<text transform="translate(636.63 1149.44) scale(0.85 1)" font-size="14.3" style="letter-spacing:1.2px">20</text>
<g transform="translate(636.63 1174.67) scale(0.85 1)" font-size="14.3"><path transform="matrix(0.00698 0 0 -0.00698 0 0)" d="M515 0L515 1225L120 1000L120 1150L530 1409L696 1409L696 0Z"/><text x="9.15" style="letter-spacing:1.2px">0</text></g>
<text transform="translate(644.41 1199.9) scale(0.85 1)" font-size="14.3" style="letter-spacing:1.2px">0</text>
<g transform="translate(653.01 1218.6) scale(0.85 1)" font-size="14.3"><path transform="matrix(0.00698 0 0 -0.00698 0 0)" d="M515 0L515 1225L120 1000L120 1150L530 1409L696 1409L696 0Z"/><text x="9.15" style="letter-spacing:1.2px">0</text></g>
<g transform="translate(711.05 1218.6) scale(0.85 1)" font-size="14.3"><path transform="matrix(0.00698 0 0 -0.00698 0 0)" d="M515 0L515 1225L120 1000L120 1150L530 1409L696 1409L696 0Z"/><text x="9.15" style="letter-spacing:1.2px">00</text></g>
<g transform="translate(778.16 1218.6) scale(0.85 1)" font-size="14.3"><path transform="matrix(0.00698 0 0 -0.00698 0 0)" d="M515 0L515 1225L120 1000L120 1150L530 1409L696 1409L696 0Z"/><text x="9.15" style="letter-spacing:1.2px">k</text></g>
<g transform="translate(837.39 1218.6) scale(0.85 1)" font-size="14.3"><path transform="matrix(0.00698 0 0 -0.00698 0 0)" d="M515 0L515 1225L120 1000L120 1150L530 1409L696 1409L696 0Z"/><text x="9.15" style="letter-spacing:1.2px">0k</text></g>
<g transform="translate(896.86 1218.6) scale(0.85 1)" font-size="14.3"><path transform="matrix(0.00698 0 0 -0.00698 0 0)" d="M515 0L515 1225L120 1000L120 1150L530 1409L696 1409L696 0Z"/><text x="9.15" style="letter-spacing:1.2px">00k</text></g>
<text transform="translate(730.35 1250.4) scale(0.75 1)" font-size="13.8" style="letter-spacing:1.38px">FREQUENCY</text>
<path d="M815.95 1237.85C811.95 1241.04 811.95 1249.16 815.95 1252.35" stroke="#000" stroke-width="1.1" fill="none"/>
<text transform="translate(818.2 1250.4) scale(0.88 1)" font-size="13.8">H</text>
<text transform="translate(827.28 1250.4) scale(0.94 1)" font-size="13.8">z</text>
<path d="M835.95 1237.85C839.42 1241.04 839.42 1249.16 835.95 1252.35" stroke="#000" stroke-width="1.1" fill="none"/>
<g transform="translate(601 0) rotate(-90)">
<text transform="translate(-1104.15 0) scale(0.78 1)" font-size="13.8" style="letter-spacing:1.05px">CMRR</text>
<path d="M-1060.85 -12.55C-1064.32 -9.36 -1064.32 -1.24 -1060.85 1.95" stroke="#000" stroke-width="1.1" fill="none"/>
<text transform="translate(-1059.32 0) scale(1.06 1)" font-size="13.8">d</text>
<text transform="translate(-1051.12 0) scale(0.9 1)" font-size="13.8">B</text>
<path d="M-1041.45 -12.55C-1037.98 -9.36 -1037.98 -1.24 -1041.45 1.95" stroke="#000" stroke-width="1.1" fill="none"/>
</g>
<text transform="translate(823.85 1035.7) scale(0.78 1)" font-size="13.9">V</text>
<text transform="translate(831.23 1041.5) scale(0.87 1)" font-size="12">S</text>
<path d="M847.1 1029.1H854.4M847.1 1032.6H854.4" stroke="#000" stroke-width="1.15"/>
<g transform="translate(865.52 1035.7) scale(0.72 1)" font-size="13.9"><path transform="matrix(0.00679 0 0 -0.00679 0 0)" d="M515 0L515 1225L120 1000L120 1150L530 1409L696 1409L696 0Z"/></g>
<text transform="translate(871.97 1035.7) scale(0.96 1)" font-size="13.9">5</text>
<text transform="translate(880.05 1035.7) scale(0.87 1)" font-size="13.9">V</text>
<text transform="translate(822.11 1057.9) scale(0.69 1)" font-size="13.9">R</text>
<text transform="translate(828.16 1063.4) scale(0.98 1)" font-size="13">L</text>
<path d="M844.7 1051.3H852.1M844.7 1054.8H852.1" stroke="#000" stroke-width="1.15"/>
<text transform="translate(861 1057.9) scale(0.9 1)" font-size="13.9">5</text>
<text transform="translate(872.68 1057.9) scale(0.93 1)" font-size="13.19">k</text>
<text transform="translate(881.22 1057.9) scale(1 1)" font-size="13.7">Ω</text>
</svg>
</body></html>
